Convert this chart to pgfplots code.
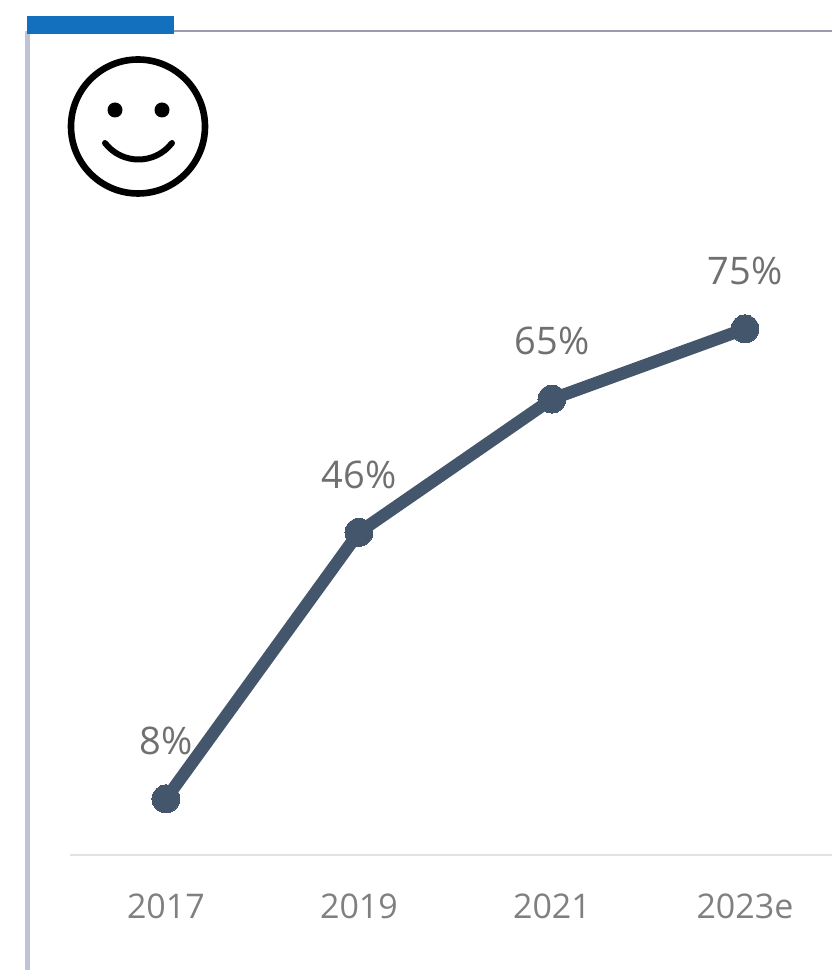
\documentclass[border=0pt]{standalone}
\usepackage{pgfplots}
\pgfplotsset{compat=1.18}
\usepackage{fontspec}
\setmainfont{Open Sans}
\definecolor{linecol}{HTML}{44566C}
\definecolor{labcol}{HTML}{707070}
\definecolor{ticklab}{HTML}{808080}
\definecolor{leftcol}{HTML}{BEC4D6}
\definecolor{topcol}{HTML}{9C9CAE}
\definecolor{basecol}{HTML}{E2E2E2}
\definecolor{tabcol}{HTML}{1270BE}
\begin{document}
\begin{tikzpicture}[x=0.5pt,y=0.5pt]
\path[use as bounding box] (0,0) rectangle (832,970);
% frame, top tab (y measured from the bottom, image height 970)
\fill[leftcol] (25,0) rectangle (30,939);
\draw[topcol,line width=1.3pt] (30,939) -- (832,939);
\fill[tabcol] (27,936) rectangle (174,954);
% smiley
\draw[black,line width=3.3pt] (138,843.5) circle (67);
\fill[black] (115,860) circle (7.5);
\fill[black] (162,860) circle (7.5);
\draw[black,line width=3pt,line cap=round] (105,827) .. controls (122,805) and (155,805) .. (172,827);
\begin{axis}[
    at={(35pt,57.5pt)},
    anchor=south west,
    scale only axis,
    width=381pt,
    height=350.75pt,
    xmin=-0.497,
    xmax=3.451,
    ymin=0,
    ymax=100,
    clip=false,
    axis y line=none,
    axis x line=bottom,
    x axis line style={basecol,line width=1.2pt,-},
    xtick=data,
    xticklabels={2017,2019,2021,2023e},
    major tick length=0pt,
    xticklabel style={text=ticklab,font=\fontsize{17}{18}\selectfont,yshift=-16pt},
    /pgf/number format/assume math mode=true,
    nodes near coords={\pgfmathprintnumber{\pgfplotspointmeta}\%},
    nodes near coords style={text=labcol,font=\fontsize{19}{20}\selectfont,anchor=south,yshift=18.6pt},
]
\addplot[linecol,line width=6.2pt,mark=*,mark size=7pt,mark options={fill=linecol,draw=linecol,line width=0pt}]
    coordinates {(0,8)(1,46)(2,65)(3,75)};
\end{axis}
\end{tikzpicture}
\end{document}
